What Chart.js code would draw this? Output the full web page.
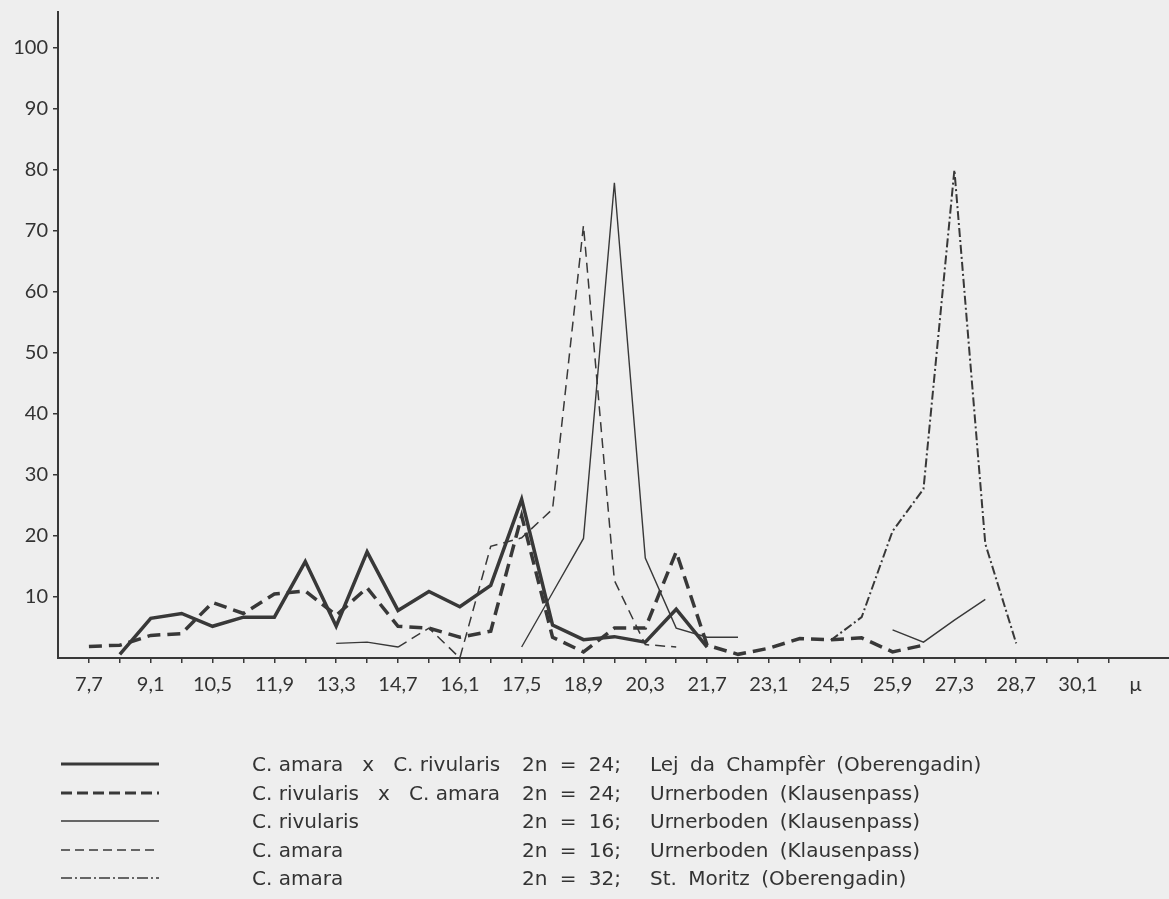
<!DOCTYPE html>
<html>
<head>
<meta charset="utf-8">
<script src="https://cdn.jsdelivr.net/npm/chart.js@4/dist/chart.umd.min.js"></script>
<style>
  html, body { margin: 0; padding: 0; background: #eeeeee; }
  #wrap { position: relative; width: 1169px; height: 899px; overflow: hidden; }
  #c { position: absolute; left: 0; top: 0; }
  #legend { position: absolute; left: 0; top: 0; width: 1169px; height: 899px;
            font-family: "DejaVu Sans", Lato, sans-serif; font-size: 20px; color: #333; }
  #legend span { position: absolute; white-space: pre; line-height: 24px; }
  #legend span.chrom { word-spacing: 6px; }
  #legend span.place { word-spacing: 5px; }
  #legend svg { position: absolute; }
</style>
</head>
<body>
<div id="wrap">
  <canvas id="c" width="1169" height="899"></canvas>
  <div id="legend"></div>
</div>
<script>
// size classes in micron (x axis), 0.7 step
const xValues = [7.7, 8.4, 9.1, 9.8, 10.5, 11.2, 11.9, 12.6, 13.3, 14.0, 14.7, 15.4, 16.1, 16.8,
                 17.5, 18.2, 18.9, 19.6, 20.3, 21.0, 21.7, 22.4, 23.1, 23.8, 24.5, 25.2, 25.9,
                 26.6, 27.3, 28.0, 28.7];

// percentages per class
const amaraXrivularis = [null, 0.6, 6.5, 7.3, 5.2, 6.7, 6.7, 15.8, 5.2, 17.4, 7.8, 10.9, 8.4, 11.9,
                         26.0, 5.4, 3.0, 3.5, 2.6, 8.0, 1.8, null, null, null, null, null, null,
                         null, null, null, null];
const rivularisXamara = [1.9, 2.1, 3.7, 4.0, 9.1, 7.3, 10.5, 11.0, 7.0, 11.5, 5.2, 4.9, 3.4, 4.4,
                         23.3, 3.4, 1.0, 4.9, 4.9, 17.4, 2.1, 0.6, 1.6, 3.2, 3.0, 3.3, 1.0,
                         2.1, null, null, null];
const rivularis16 = [null, null, null, null, null, null, null, null, 2.4, 2.6, 1.8, null, null, null,
                     1.8, 10.7, 19.6, 77.9, 16.4, 4.9, 3.4, 3.4, null, null, null, null, 4.6,
                     2.6, 6.2, 9.6, null];
const amara16 = [null, null, null, null, null, null, null, null, null, null, 1.8, 4.9, 0, 18.3,
                 19.7, 24.4, 70.9, 12.7, 2.2, 1.8, null, null, null, null, null, null, null,
                 null, null, null, null];
const amara32 = [null, null, null, null, null, null, null, null, null, null, null, null, null, null,
                 null, null, null, null, null, null, null, null, null, null, 2.9, 6.7, 20.8,
                 27.7, 80.0, 18.7, 2.4];

const xTickValues = [7.7, 8.4, 9.1, 9.8, 10.5, 11.2, 11.9, 12.6, 13.3, 14.0, 14.7, 15.4, 16.1, 16.8,
                     17.5, 18.2, 18.9, 19.6, 20.3, 21.0, 21.7, 22.4, 23.1, 23.8, 24.5, 25.2, 25.9,
                     26.6, 27.3, 28.0, 28.7, 29.4, 30.1, 30.8, 31.4];
const xTickLabels = ['7,7', '', '9,1', '', '10,5', '', '11,9', '', '13,3', '', '14,7', '', '16,1', '',
                     '17,5', '', '18,9', '', '20,3', '', '21,7', '', '23,1', '', '24,5', '', '25,9',
                     '', '27,3', '', '28,7', '', '30,1', '', 'μ'];
const yTickValues = [10, 20, 30, 40, 50, 60, 70, 80, 90, 100];

const legendNames = ['C. amara   x   C. rivularis', 'C. rivularis   x   C. amara', 'C. rivularis',
                     'C. amara', 'C. amara'];
const legendChrom = ['2n = 24;', '2n = 24;', '2n = 16;', '2n = 16;', '2n = 32;'];
const legendPlaces = ['Lej da Champfèr (Oberengadin)', 'Urnerboden (Klausenpass)',
                      'Urnerboden (Klausenpass)', 'Urnerboden (Klausenpass)',
                      'St. Moritz (Oberengadin)'];

const ink = '#383838';
const styles = [
  { data: amaraXrivularis, width: 3.5, dash: [], key: [] },
  { data: rivularisXamara, width: 3.5, dash: [13, 7], key: [11, 5] },
  { data: rivularis16, width: 1.4, dash: [], key: [] },
  { data: amara16, width: 1.5, dash: [10, 6], key: [9, 5] },
  { data: amara32, width: 2, dash: [9, 3, 2, 3], key: [11, 3, 2, 3] }
];

const datasets = styles.map((s, k) => ({
  label: legendNames[k],
  data: xValues.map((x, i) => ({ x: x, y: s.data[i] })),
  borderColor: ink,
  borderWidth: s.width,
  borderDash: s.dash,
  pointRadius: 0,
  tension: 0,
  fill: false,
  spanGaps: false
}));

const tickFont = { family: 'Lato, "DejaVu Sans", sans-serif', size: 20, lineHeight: 0.7 };

new Chart(document.getElementById('c'), {
  type: 'line',
  data: { datasets: datasets },
  options: {
    responsive: false,
    animation: false,
    layout: { padding: { top: 7, right: 0, bottom: 201, left: 0 } },
    plugins: { legend: { display: false }, tooltip: { enabled: false } },
    scales: {
      x: {
        type: 'linear', min: 7.0, max: 32.16,
        afterBuildTicks: sc => { sc.ticks = xTickValues.map(v => ({ value: v })); },
        afterFit: sc => { sc.height = 40; },
        ticks: {
          autoSkip: false, maxRotation: 0, padding: 10, color: '#333',
          font: { family: tickFont.family, size: 20 },
          callback: (v, i) => xTickLabels[i]
        },
        grid: {
          drawOnChartArea: false, tickLength: 5, lineWidth: 1.5,
          tickColor: c => (c.index === xTickValues.length - 1 ? 'transparent' : ink)
        },
        border: { color: ink, width: 2 }
      },
      y: {
        min: 0, max: 105.9,
        afterBuildTicks: sc => { sc.ticks = yTickValues.map(v => ({ value: v })); },
        afterFit: sc => { sc.width = 58; },
        ticks: { padding: 5, color: '#333', font: tickFont },
        grid: { drawOnChartArea: false, tickLength: 5, lineWidth: 1.5, tickColor: ink },
        border: { color: ink, width: 2 }
      }
    }
  }
});

// legend below the chart
const leg = document.getElementById('legend');
styles.forEach((s, k) => {
  const cy = 764 + k * 28.5;
  const svg = document.createElementNS('http://www.w3.org/2000/svg', 'svg');
  svg.setAttribute('width', '98');
  svg.setAttribute('height', '8');
  svg.style.left = '61px';
  svg.style.top = (cy - 4) + 'px';
  const ln = document.createElementNS('http://www.w3.org/2000/svg', 'line');
  ln.setAttribute('x1', '0'); ln.setAttribute('y1', '4');
  ln.setAttribute('x2', '98'); ln.setAttribute('y2', '4');
  ln.setAttribute('stroke', ink);
  ln.setAttribute('stroke-width', s.width === 3.5 ? '3' : '1.4');
  if (s.key.length) ln.setAttribute('stroke-dasharray', s.key.join(' '));
  svg.appendChild(ln);
  leg.appendChild(svg);
  [[legendNames[k], 252, 'name'], [legendChrom[k], 522, 'chrom'], [legendPlaces[k], 650, 'place']]
    .forEach(([t, x, cls]) => {
      const sp = document.createElement('span');
      sp.className = cls;
      sp.textContent = t;
      sp.style.left = x + 'px';
      sp.style.top = (cy - 12) + 'px';
      leg.appendChild(sp);
    });
});
</script>
</body>
</html>
